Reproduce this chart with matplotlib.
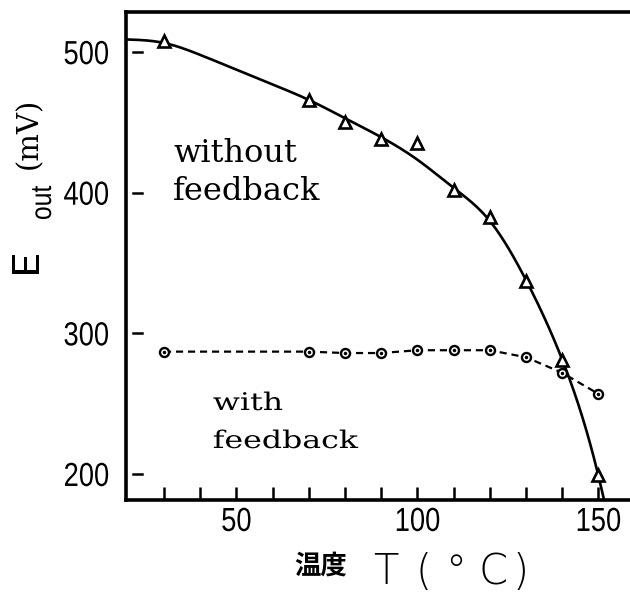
import numpy as np
import matplotlib
matplotlib.use("Agg")
import matplotlib.pyplot as plt
import matplotlib.transforms as mtransforms
from matplotlib.patheffects import AbstractPathEffect

# Temperature sweep (deg C)
temps = [30, 70, 80, 90, 100, 110, 120, 130, 140, 150]
# Output voltage without feedback (mV)
eout_open = [508, 466, 450, 438, 435, 402, 383, 337, 281, 199]
# Output voltage with feedback (mV)
eout_fb = [287, 287, 286, 286, 288, 288, 288, 283, 272, 257]

# Hand-drawn trend through the open-loop points
trend_t = [19.5, 30, 40, 50, 60, 70, 80, 90, 100, 110, 120, 130, 140, 150, 151.6]
trend_v = [509, 506.5, 498, 487.5, 477, 466, 453, 439.5, 423.5, 403.5, 380, 338, 281.5, 199, 181.5]

x_major = [50, 100, 150]
x_minor = [30, 40, 60, 70, 80, 90, 110, 120, 130, 140]
y_ticks = [200, 300, 400, 500]


class Stretch(AbstractPathEffect):
    """Scale glyph outlines horizontally (in text space) about an anchor."""

    def __init__(self, sx, anchor="center"):
        super().__init__()
        self.sx = sx
        self.anchor = anchor

    def draw_path(self, renderer, gc, tpath, affine, rgbFace=None):
        ext = tpath.get_extents()
        cx = {"left": ext.x0, "right": ext.x1}.get(self.anchor,
                                                    0.5 * (ext.x0 + ext.x1))
        t = (mtransforms.Affine2D().translate(-cx, 0).scale(self.sx, 1)
             .translate(cx, 0) + affine)
        renderer.draw_path(gc, tpath, t, rgbFace)


def natural_spline(xk, yk, n=40):
    xk = np.asarray(xk, float)
    yk = np.asarray(yk, float)
    N = len(xk)
    h = np.diff(xk)
    A = np.zeros((N, N))
    b = np.zeros(N)
    A[0, 0] = A[-1, -1] = 1.0
    for i in range(1, N - 1):
        A[i, i - 1] = h[i - 1]
        A[i, i] = 2 * (h[i - 1] + h[i])
        A[i, i + 1] = h[i]
        b[i] = 6 * ((yk[i + 1] - yk[i]) / h[i] - (yk[i] - yk[i - 1]) / h[i - 1])
    M = np.linalg.solve(A, b)
    xs, ys = [], []
    for i in range(N - 1):
        x = np.linspace(xk[i], xk[i + 1], n, endpoint=False)
        a = xk[i + 1] - x
        c = x - xk[i]
        y = (M[i] * a**3 / (6 * h[i]) + M[i + 1] * c**3 / (6 * h[i])
             + (yk[i] / h[i] - M[i] * h[i] / 6) * a
             + (yk[i + 1] / h[i] - M[i + 1] * h[i] / 6) * c)
        xs.append(x)
        ys.append(y)
    xs.append([xk[-1]])
    ys.append([yk[-1]])
    return np.concatenate(xs), np.concatenate(ys)


W, H = 630, 592
fig = plt.figure(figsize=(W / 100, H / 100), dpi=100)
ax = fig.add_axes([126 / W, 1 - 500 / H, (W - 126) / W + 0.01, (500 - 12) / H])

ax.set_xlim(19.5, 160.5)
ax.set_ylim(181.5, 528.5)

for side in ("left", "bottom", "top"):
    ax.spines[side].set_linewidth(2.6)
ax.spines["right"].set_visible(False)

# Smooth trend (solid) and the open-loop data (triangles)
cx, cy = natural_spline(trend_t, trend_v)
ax.plot(cx, cy, color="black", lw=1.9, solid_capstyle="round", zorder=2)
ax.plot(temps, eout_open, linestyle="none", marker="^", ms=8.5,
        mfc="white", mec="black", mew=1.9, zorder=3)

# With feedback: dashed line with open circles
ax.plot(temps, eout_fb, color="black", lw=1.6, dashes=(3.2, 2.2), zorder=2)
ax.plot(temps, eout_fb, linestyle="none", marker="o", ms=6.5,
        mfc="white", mec="black", mew=1.7, zorder=3)
ax.plot(temps, eout_fb, linestyle="none", marker="o", ms=1.5,
        color="black", zorder=4)

tick_font = ["Liberation Sans", "DejaVu Sans"]

# X ticks: inward, every 10 degrees
ax.set_xticks(x_major)
ax.set_xticks(x_minor, minor=True)
ax.tick_params(axis="x", which="both", direction="in", length=9.5, width=1.8,
               pad=5)
ax.tick_params(axis="x", which="major", labelsize=24)
for lab in ax.get_xticklabels():
    lab.set_family(tick_font)
    lab.set_path_effects([Stretch(0.82, "center")])

# Y ticks: short dashes set slightly in from the spine
ax.set_yticks(y_ticks)
ax.tick_params(axis="y", length=0, pad=12, labelsize=24)
for lab in ax.get_yticklabels():
    lab.set_family(tick_font)
    lab.set_path_effects([Stretch(0.82, "right")])
blend = mtransforms.blended_transform_factory(ax.transAxes, ax.transData)
for v in y_ticks:
    ax.plot([0.013, 0.031], [v, v], color="black", lw=1.8, transform=blend,
            clip_on=False)

# Curve annotations
serif = ["DejaVu Serif"]
for s, y in (("without", 162), ("feedback", 200)):
    fig.text(173 / W, 1 - y / H, s, family=serif, fontsize=23,
             va="baseline", ha="left")
for s, y in (("with", 410), ("feedback", 448)):
    fig.text(213 / W, 1 - y / H, s, family=serif, fontsize=17.5,
             va="baseline", ha="left",
             path_effects=[Stretch(1.3, "left")])

# Y axis label: E, "out", unit
fig.text(29 / W, 1 - 265 / H, "E", family=tick_font, fontsize=28,
         rotation=90, ha="center", va="center",
         path_effects=[Stretch(0.9, "center")])
fig.text(43 / W, 1 - 203 / H, "out", family=tick_font, fontsize=21,
         rotation=90, ha="center", va="center",
         path_effects=[Stretch(0.85, "center")])
fig.text(29 / W, 1 - 133 / H, "(mV)", family=serif, fontsize=21,
         rotation=90, ha="center", va="center")

# X axis label
fig.text(321 / W, 1 - 566 / H, "温度", family=["Noto Sans CJK JP"],
         fontsize=19, fontweight="bold", ha="center", va="center")
for xp, s in ((386, "T"), (424, "("), (456, "°"), (493, "C"), (521, ")")):
    fig.text(xp / W, 1 - 572 / H, s, family=["DejaVu Sans"], fontsize=30,
             fontweight="light", ha="center", va="center")

fig.savefig("out.png", dpi=100, facecolor="white")
